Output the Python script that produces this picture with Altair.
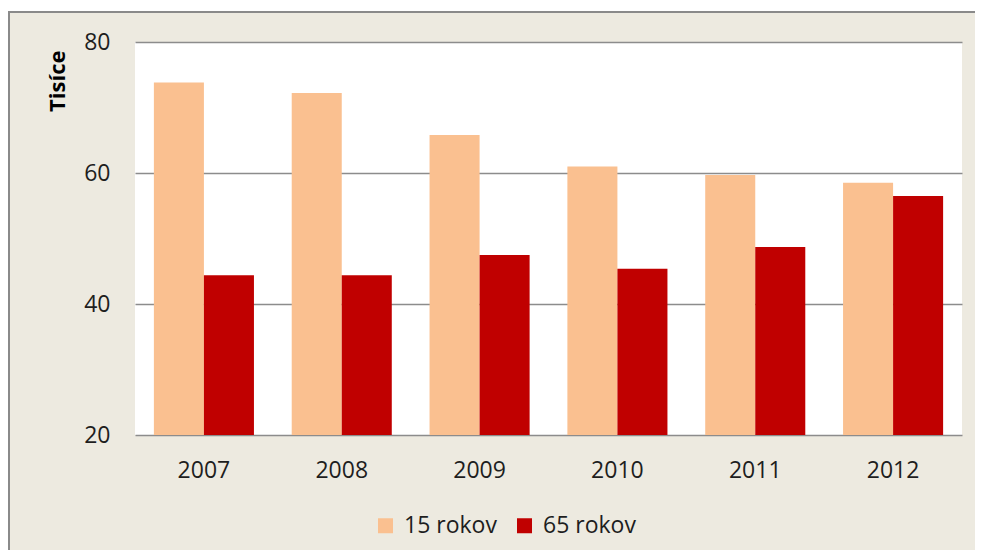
import altair as alt
import pandas as pd

years = ["2007", "2008", "2009", "2010", "2011", "2012"]
series = ["15 rokov", "65 rokov"]
v15 = [73.8, 72.2, 65.8, 61.0, 59.7, 58.5]
v65 = [44.4, 44.4, 47.5, 45.4, 48.7, 56.5]
y_ticks = [20, 40, 60, 80]
colors = ["#FAC090", "#C00000"]

rows = []
for i, y in enumerate(years):
    rows.append({"year": y, "series": series[0], "value": v15[i]})
    rows.append({"year": y, "series": series[1], "value": v65[i]})
df = pd.DataFrame(rows)

W, H = 827, 393
FONT = "Open Sans"
TXT = "#1e1e1e"

bars = alt.Chart(df).mark_bar(clip=False).encode(
    x=alt.X("year:N", sort=years,
            scale=alt.Scale(paddingInner=0.274, paddingOuter=0.137),
            axis=alt.Axis(title=None, labelAngle=0, ticks=False, domain=False,
                          labelPadding=24, labelFontSize=23, labelFont=FONT,
                          labelColor=TXT, grid=False)),
    xOffset=alt.XOffset("series:N", sort=series, scale=alt.Scale(paddingInner=0, paddingOuter=0)),
    y=alt.Y("value:Q",
            scale=alt.Scale(domain=[20, 80], zero=False, nice=False),
            axis=alt.Axis(values=y_ticks, title="Tisíce", ticks=False, domain=False,
                          labelPadding=25, labelFontSize=23, labelFont=FONT,
                          labelColor=TXT, grid=True, gridColor="#8c8c8c",
                          gridWidth=1.5, titleFont=FONT, titleFontSize=22,
                          titleFontWeight="bold", titleColor="#000000",
                          titleAngle=-90, titleAlign="right", titleBaseline="middle",
                          titleX=-78, titleY=8)),
    y2=alt.datum(20),
    color=alt.Color("series:N", sort=series,
                    scale=alt.Scale(domain=series, range=colors),
                    legend=alt.Legend(title=None, orient="none", direction="horizontal",
                                      legendX=239, legendY=472, symbolType="square",
                                      symbolSize=225, symbolStrokeWidth=0,
                                      labelFontSize=23, labelFont=FONT, labelColor=TXT,
                                      labelOffset=7, columnPadding=16, padding=0)),
)

# white strip above the frame and gray frame lines (decoration)
strip = alt.Chart(pd.DataFrame({"a": [0]})).mark_rect(color="white", clip=False).encode(
    x=alt.value(-130), x2=alt.value(W + 20), y=alt.value(-40), y2=alt.value(-31)
)
top_line = alt.Chart(pd.DataFrame({"a": [0]})).mark_rule(color="#8a8a8a", strokeWidth=2, clip=False).encode(
    x=alt.value(-127), x2=alt.value(W + 20), y=alt.value(-30)
)
left_line = alt.Chart(pd.DataFrame({"a": [0]})).mark_rule(color="#8a8a8a", strokeWidth=2, clip=False).encode(
    x=alt.value(-126), y=alt.value(-31), y2=alt.value(H + 200)
)
left_strip = alt.Chart(pd.DataFrame({"a": [0]})).mark_rect(color="white", clip=False).encode(
    x=alt.value(-130), x2=alt.value(-127), y=alt.value(-40), y2=alt.value(H + 200)
)

chart = alt.layer(bars, strip, left_strip, top_line, left_line).properties(
    width=W, height=H,
    autosize=alt.AutoSizeParams(type="none"),
    padding={"left": 127, "top": 34, "right": 13, "bottom": 115},
    background="#EDEAE0",
).configure_view(fill="white", stroke=None)

chart.save("out.html", embed_options={"renderer": "svg", "actions": False})
